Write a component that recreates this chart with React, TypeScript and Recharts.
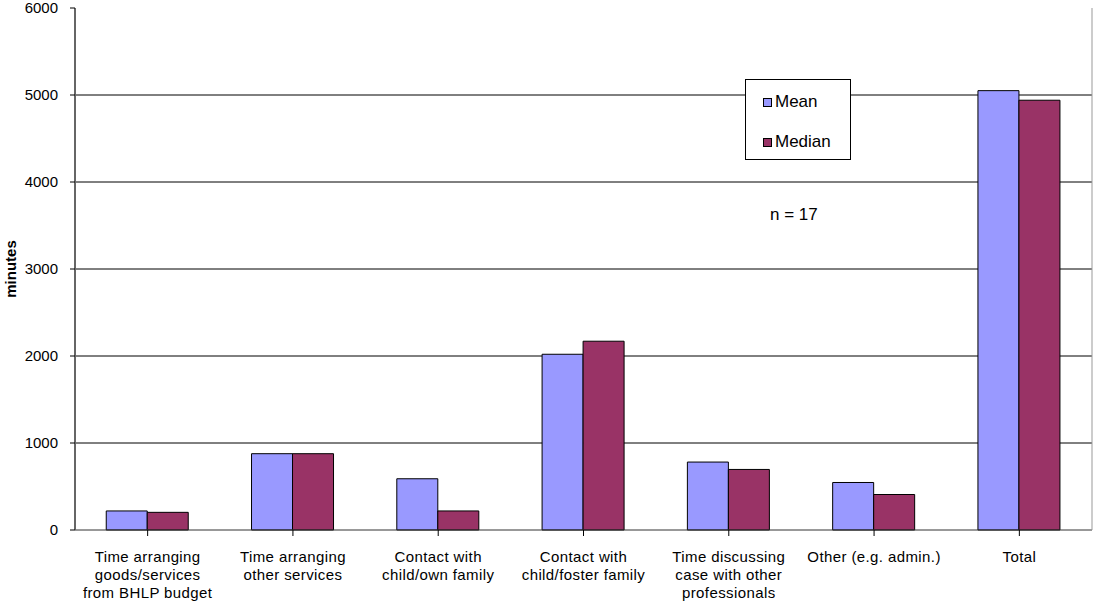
import React from 'react'
import { BarChart, Bar, XAxis, YAxis, CartesianGrid } from 'recharts'

const categories = [
  'Time arranging\ngoods/services\nfrom BHLP budget',
  'Time arranging\nother services',
  'Contact with\nchild/own family',
  'Contact with\nchild/foster family',
  'Time discussing\ncase with other\nprofessionals',
  'Other (e.g. admin.)',
  'Total',
]
const meanValues = [219, 877, 589, 2020, 781, 546, 5050]
const medianValues = [203, 877, 219, 2170, 696, 408, 4940]
const yTicks = [0, 1000, 2000, 3000, 4000, 5000, 6000]

const FONT = '"Liberation Sans", Arial, sans-serif'
const MEAN_COLOR = '#9999FF'
const MEDIAN_COLOR = '#993366'

const data = categories.map((name, i) => ({ name, mean: meanValues[i], median: medianValues[i] }))

const CategoryTick = (props: any) => {
  const { x, y, payload } = props
  const lines = String(payload.value).split('\n')
  return (
    <text x={x} y={y} textAnchor="middle" fontSize={15} letterSpacing={0.4} fontFamily={FONT} fill="#000">
      {lines.map((line: string, i: number) => (
        <tspan key={i} x={x} dy={i === 0 ? 24 : 18}>
          {line}
        </tspan>
      ))}
    </text>
  )
}

const YLabel = (props: any) => {
  const { viewBox } = props
  const cy = viewBox.y + viewBox.height / 2
  return (
    <text
      x={16}
      y={cy}
      transform={`rotate(-90, 16, ${cy})`}
      textAnchor="middle"
      fontSize={15}
      fontWeight="bold"
      fontFamily={FONT}
      fill="#000"
    >
      minutes
    </text>
  )
}

const LegendBox = () => (
  <div
    style={{
      position: 'absolute',
      left: 745,
      top: 79,
      border: '1px solid #000',
      background: '#fff',
      width: 106,
      height: 81,
      boxSizing: 'border-box',
      fontFamily: FONT,
      fontSize: 17,
      padding: '12px 0 0 17px',
    }}
  >
    {[
      { label: 'Mean', color: MEAN_COLOR },
      { label: 'Median', color: MEDIAN_COLOR },
    ].map((item, i) => (
      <div key={item.label} style={{ display: 'flex', alignItems: 'center', height: 20, marginBottom: i === 0 ? 20 : 0 }}>
        <span
          style={{
            display: 'inline-block',
            width: 7,
            height: 7,
            background: item.color,
            border: '1px solid #000',
            marginRight: 3,
          }}
        />
        <span>{item.label}</span>
      </div>
    ))}
  </div>
)

export default function App() {
  return (
    <div style={{ position: 'absolute', left: 0, top: 0, width: 1093, height: 601, background: '#fff' }}>
      <BarChart
        width={1093}
        height={601}
        data={data}
        margin={{ top: 8, right: 0, left: 0, bottom: 0 }}
        barCategoryGap="21.5%"
        barGap={0}
      >
        <CartesianGrid
          vertical={false}
          stroke="#000"
          horizontalValues={[1000, 2000, 3000, 4000, 5000]}
        />
        <XAxis
          dataKey="name"
          height={71}
          interval={0}
          tick={<CategoryTick />}
          tickLine={{ stroke: '#000' }}
          tickSize={6}
          axisLine={{ stroke: '#333' }}
        />
        <XAxis
          xAxisId="top"
          orientation="top"
          dataKey="name"
          height={0}
          tick={false}
          tickLine={false}
          axisLine={{ stroke: '#999' }}
        />
        <YAxis
          width={75}
          domain={[0, 6000]}
          ticks={yTicks}
          interval={0}
          tickSize={5}
          tickMargin={12}
          tick={{ fontSize: 15, fontFamily: FONT, fill: '#000' }}
          tickLine={{ stroke: '#000' }}
          axisLine={{ stroke: '#666', strokeWidth: 2 }}
          label={<YLabel />}
        />
        <YAxis
          yAxisId="right"
          orientation="right"
          width={1}
          domain={[0, 6000]}
          tick={false}
          tickLine={false}
          axisLine={{ stroke: '#999' }}
        />
        <Bar dataKey="mean" name="Mean" fill={MEAN_COLOR} stroke="#000" strokeWidth={1} isAnimationActive={false} />
        <Bar dataKey="median" name="Median" fill={MEDIAN_COLOR} stroke="#000" strokeWidth={1} isAnimationActive={false} />
      </BarChart>
      <LegendBox />
      <div
        style={{
          position: 'absolute',
          left: 770,
          top: 205,
          fontFamily: FONT,
          fontSize: 17,
          color: '#000',
          whiteSpace: 'nowrap',
        }}
      >
        n = 17
      </div>
    </div>
  )
}
